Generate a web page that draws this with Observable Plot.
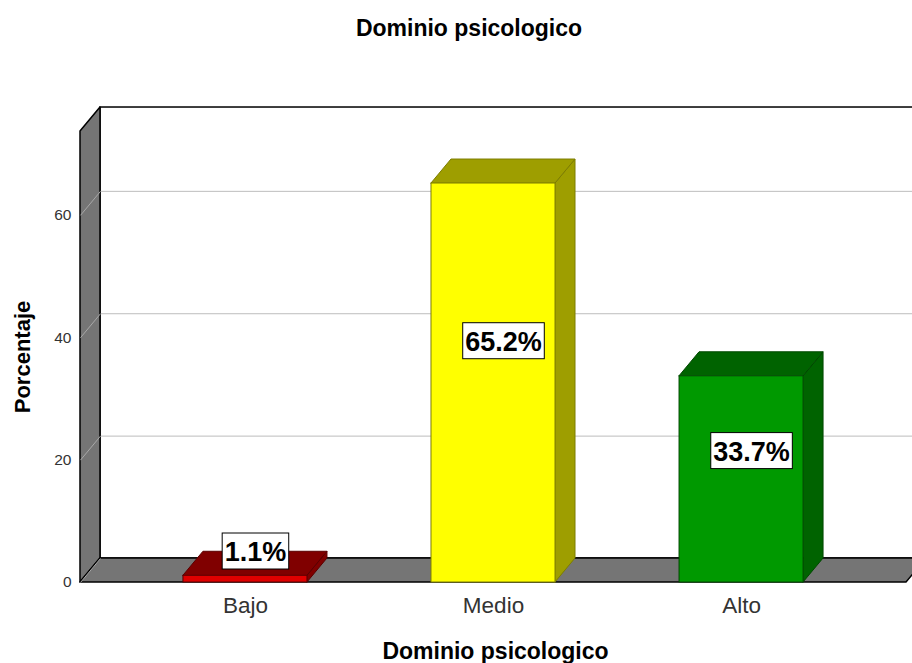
<!DOCTYPE html>
<html>
<head>
<meta charset="utf-8">
<script src="https://cdn.jsdelivr.net/npm/d3@7"></script>
<script src="https://cdn.jsdelivr.net/npm/@observablehq/plot@0.6"></script>
<style>
  html, body { margin: 0; padding: 0; background: #fff; }
  body { width: 912px; height: 663px; overflow: hidden; font-family: "Liberation Sans", Arial, sans-serif; }
  #title { width: 912px; height: 56px; line-height: 56px; box-sizing: border-box; padding-left: 26px;
           text-align: center; font-weight: bold; font-size: 23px; color: #000; }
</style>
</head>
<body>
<div id="title">Dominio psicologico</div>
<div id="chart"></div>
<script>
// ---- data ----
const categories = ["Bajo", "Medio", "Alto"];
const values = [1.1, 65.2, 33.7];
const valueLabels = ["1.1%", "65.2%", "33.7%"];
const yTicks = [0, 20, 40, 60];
const gridTicks = [20, 40, 60];
const yMax = 73.7;
const xLabel = "Dominio psicologico";
const yLabel = "Porcentaje";

// ---- styles ----
const frontColors = ["#e00000", "#ffff00", "#009900"];
const sideColors = ["#800000", "#9e9e00", "#006300"];
const edgeColors = ["#5a0000", "#7d7d00", "#004800"];
const wallGray = "#757575";

// ---- 3D geometry (data units) ----
const xMin = -0.665, xMax = 2.665;   // category index extent of the front frame
const HW = 0.25;                     // half bar width (category units)
const DX = 0.0806, DY = 3.92;        // depth offset of the back plane

const bars = categories.map((c, i) => ({
  cat: c, i, v: values[i], label: valueLabels[i],
  front: frontColors[i], side: sideColors[i], edge: edgeColors[i]
}));

const topFaces = bars.flatMap(b => [
  {cat: b.cat, y: b.v, x1: b.i - HW, x2: b.i + HW, fill: b.side, edge: b.edge},
  {cat: b.cat, y: b.v + DY, x1: b.i - HW + DX, x2: b.i + HW + DX, fill: b.side, edge: b.edge}
]);
const sideFaces = bars.flatMap(b => [
  {cat: b.cat, x: b.i + HW, y1: 0, y2: b.v, fill: b.side, edge: b.edge},
  {cat: b.cat, x: b.i + HW + DX, y1: DY, y2: b.v + DY, fill: b.side, edge: b.edge}
]);
const leftWall = [
  {x: xMin, y1: 0, y2: yMax},
  {x: xMin + DX, y1: DY, y2: yMax + DY}
];
const floor = [
  {y: 0, x1: xMin, x2: xMax},
  {y: DY, x1: xMin + DX, x2: xMax + DX}
];

const chart = Plot.plot({
  width: 912,
  height: 607,
  marginLeft: 80,
  marginRight: 6,
  marginTop: 75,
  marginBottom: 81,
  style: {background: "#fff", fontFamily: "'Liberation Sans', Arial, sans-serif"},
  x: {domain: [xMin, xMax], axis: null},
  y: {domain: [0, yMax], axis: null},
  color: {type: "identity"},
  marks: [
    // back wall
    Plot.rect([0], {x1: xMin + DX, x2: xMax + DX, y1: DY, y2: yMax + DY, fill: "#fff", stroke: "#000", strokeWidth: 1.5}),
    Plot.ruleY(gridTicks, {y: d => d + DY, x1: xMin + DX, x2: xMax + DX, stroke: "#bdbdbd", strokeWidth: 1}),
    // left wall
    Plot.areaY(leftWall, {x: "x", y1: "y1", y2: "y2", fill: wallGray, stroke: "#000", strokeWidth: 1.5}),
    Plot.link(gridTicks, {x1: xMin, y1: d => d, x2: xMin + DX, y2: d => d + DY, stroke: "#a8a8a8", strokeWidth: 1}),
    // floor
    Plot.areaX(floor, {y: "y", x1: "x1", x2: "x2", fill: wallGray, stroke: "#000", strokeWidth: 1.5}),
    Plot.link([0], {x1: xMin, y1: 0, x2: xMin + DX, y2: DY, stroke: "#a8a8a8", strokeWidth: 1}),
    // bars
    Plot.areaY(sideFaces, {x: "x", y1: "y1", y2: "y2", z: "cat", fill: "fill", stroke: "edge", strokeWidth: 1}),
    Plot.areaX(topFaces, {y: "y", x1: "x1", x2: "x2", z: "cat", fill: "fill", stroke: "edge", strokeWidth: 1}),
    Plot.rect(bars, {x1: d => d.i - HW, x2: d => d.i + HW, y1: 0, y2: "v", fill: "front", stroke: "edge", strokeWidth: 1}),
    // value labels (boxes added after render from text bbox)
    Plot.text(bars, {x: "i", y: d => Math.max(d.v * 0.57, 2.8), dx: 10, dy: -13, text: "label",
      fontSize: 27, fontWeight: "bold", fill: "#000"}),
    // y tick labels
    Plot.text(yTicks, {x: xMin, y: d => d, dx: -9, text: d => String(d), textAnchor: "end", fontSize: 15.5, fill: "#333"}),
    // category labels
    Plot.text(bars, {x: "i", y: 0, dy: 23, text: "cat", fontSize: 22.5, fill: "#333"}),
    // axis titles
    Plot.text([xLabel], {x: 1, y: 0, dx: 2, dy: 69, text: d => d, fontSize: 23, fontWeight: "bold", fill: "#000"}),
    Plot.text([yLabel], {x: xMin, y: yMax / 2, dx: -58, rotate: -90, text: d => d, fontSize: 22, fontWeight: "bold", fill: "#000"})
  ]
});

document.getElementById("chart").appendChild(chart);

// white boxes behind the value labels, sized from each text's bounding box
const NS = "http://www.w3.org/2000/svg";
chart.querySelectorAll("text").forEach(t => {
  if (!/%$/.test(t.textContent)) return;
  const bb = t.getBBox();
  const r = document.createElementNS(NS, "rect");
  r.setAttribute("x", bb.x - 2.5);
  r.setAttribute("y", bb.y - 4);
  r.setAttribute("width", bb.width + 5);
  r.setAttribute("height", bb.height + 6);
  r.setAttribute("fill", "#fff");
  r.setAttribute("stroke", "#000");
  r.setAttribute("stroke-width", "1");
  const tr = t.getAttribute("transform");
  if (tr) r.setAttribute("transform", tr);
  t.parentNode.insertBefore(r, t);
});
</script>
</body>
</html>
